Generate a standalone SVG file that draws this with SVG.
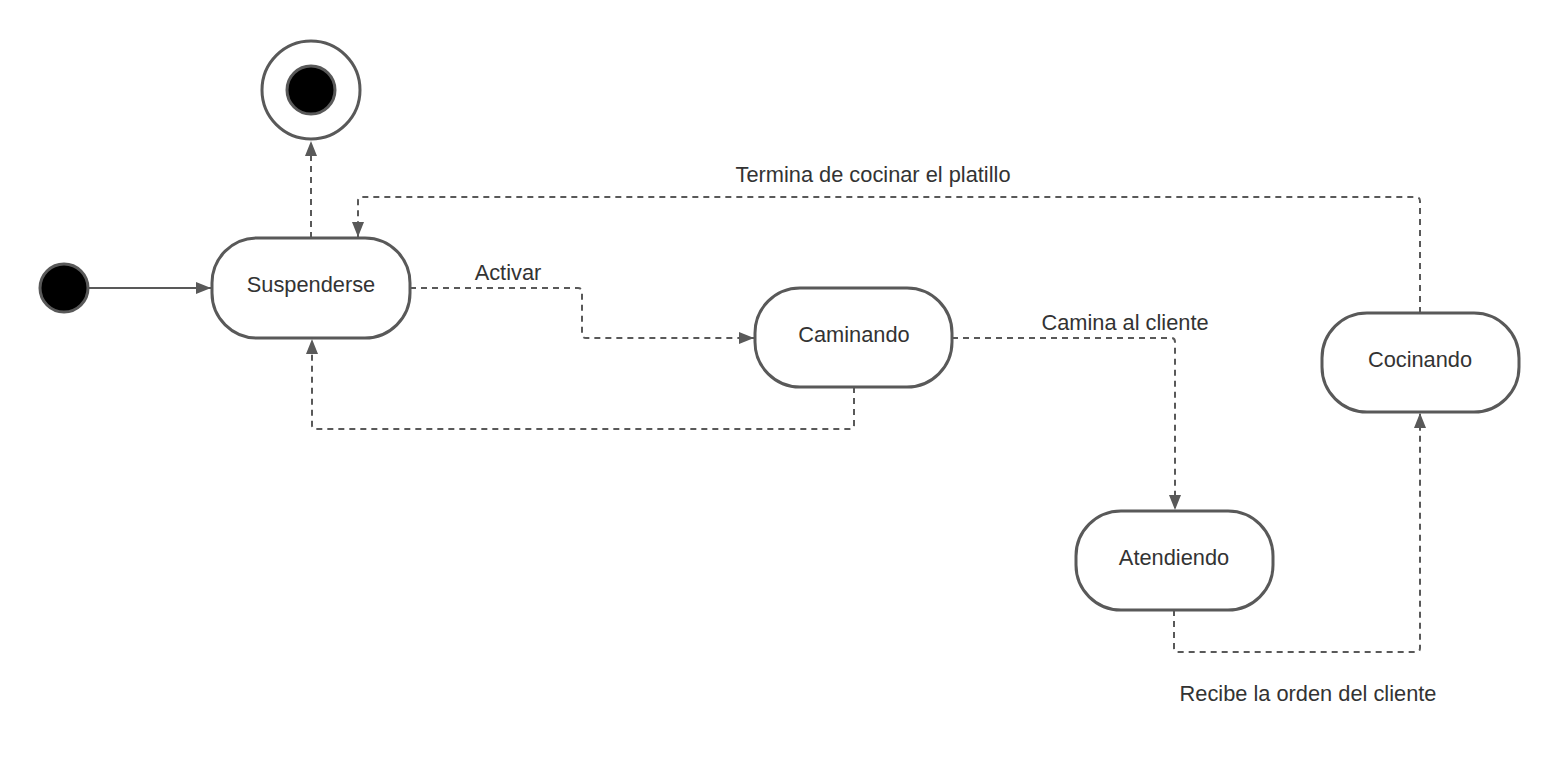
<svg xmlns="http://www.w3.org/2000/svg" width="1560" height="775" viewBox="0 0 1560 775">
<defs>
<marker id="arr" markerWidth="16" markerHeight="14" refX="15" refY="7" orient="auto" markerUnits="userSpaceOnUse">
<path d="M0,1 L15,7 L0,13 Z" fill="#595959"/>
</marker>
<style>
.node{fill:#fff;stroke:#595959;stroke-width:3}
.lbl{font-family:"Liberation Sans",Arial,sans-serif;font-size:21.8px;fill:#333;text-anchor:middle}
.c{fill:none;stroke:#595959;stroke-width:2;stroke-dasharray:6,5}
.s{fill:none;stroke:#595959;stroke-width:2}
</style>
</defs>
<rect width="1560" height="775" fill="#fff"/>
<g id="connectors">
<path class="s" d="M89,288 H211" marker-end="url(#arr)"/>
<path class="c" d="M311,238 V141" marker-end="url(#arr)"/>
<path class="c" d="M410,288 H578 Q582,288 582,292 V334 Q582,338 586,338 H754" marker-end="url(#arr)"/>
<path class="c" d="M854,387 V425 Q854,429 850,429 H316 Q312,429 312,425 V339" marker-end="url(#arr)"/>
<path class="c" d="M952,338 H1171 Q1175,338 1175,342 V510" marker-end="url(#arr)"/>
<path class="c" d="M1174,610 V648 Q1174,652 1178,652 H1416 Q1420,652 1420,648 V413" marker-end="url(#arr)"/>
<path class="c" d="M1420,313 V201 Q1420,197 1416,197 H362 Q358,197 358,201 V237" marker-end="url(#arr)"/>
<text class="lbl" x="508" y="280">Activar</text>
<text class="lbl" x="1125" y="330">Camina al cliente</text>
<text class="lbl" x="1308" y="701">Recibe la orden del cliente</text>
<text class="lbl" x="873" y="182">Termina de cocinar el platillo</text>
</g>
<g id="initial"><circle cx="64" cy="288" r="24" fill="#000" stroke="#595959" stroke-width="3"/></g>
<g id="final">
<circle cx="311" cy="90" r="49" fill="#fff" stroke="#595959" stroke-width="3"/>
<circle cx="311" cy="90" r="24" fill="#000" stroke="#595959" stroke-width="3"/>
</g>
<g id="suspenderse"><rect class="node" x="212" y="238" width="198" height="100" rx="45" ry="45"/><text class="lbl" x="311" y="292">Suspenderse</text></g>
<g id="caminando"><rect class="node" x="755" y="288" width="197" height="99" rx="45" ry="45"/><text class="lbl" x="854" y="342">Caminando</text></g>
<g id="cocinando"><rect class="node" x="1322" y="313" width="197" height="99" rx="45" ry="45"/><text class="lbl" x="1420" y="367">Cocinando</text></g>
<g id="atendiendo"><rect class="node" x="1076" y="511" width="197" height="99" rx="45" ry="45"/><text class="lbl" x="1174" y="565">Atendiendo</text></g>
</svg>
